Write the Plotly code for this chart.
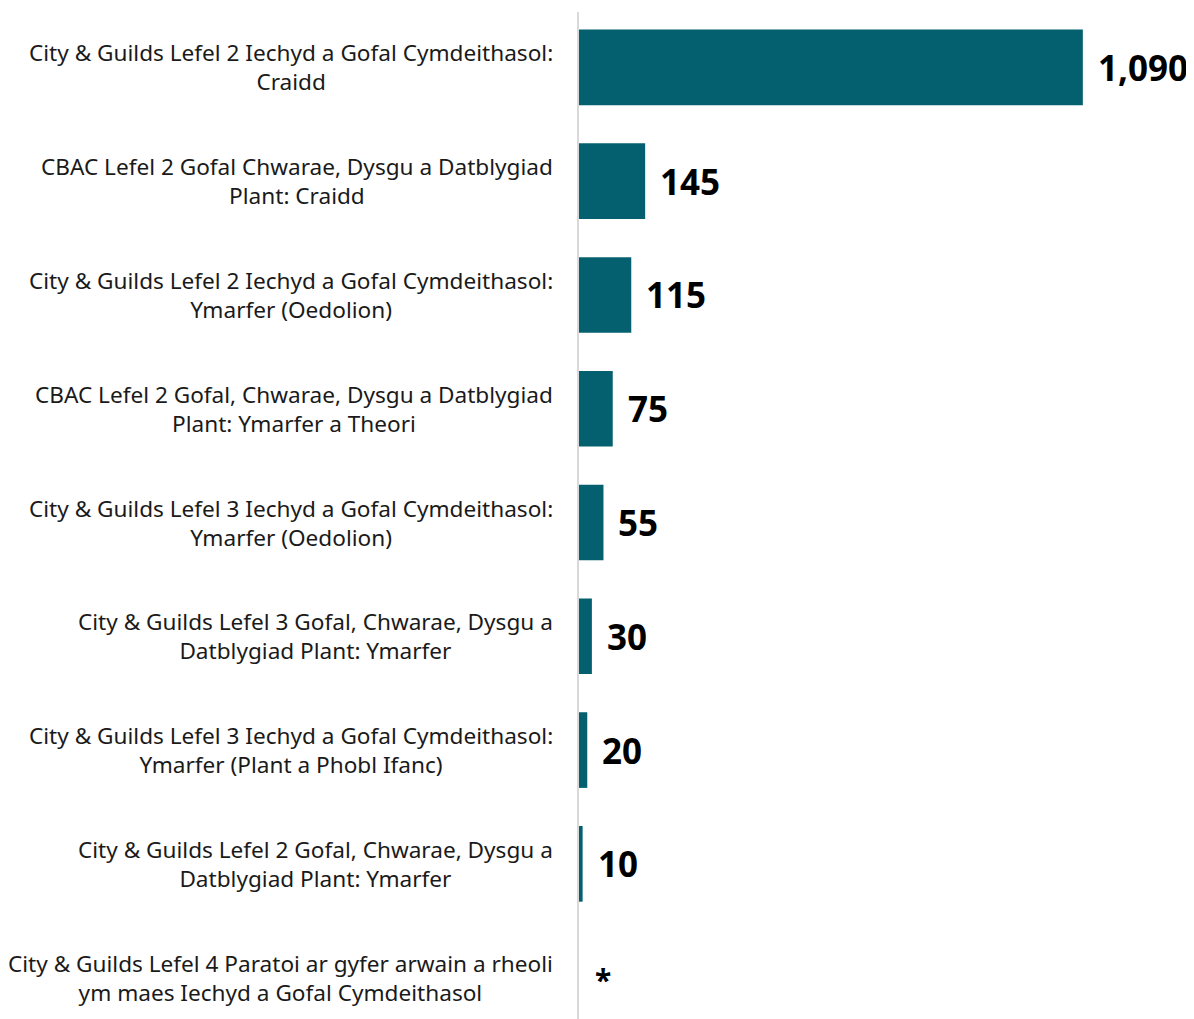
import plotly.graph_objects as go

categories = [
    "City & Guilds Lefel 2 Iechyd a Gofal Cymdeithasol:<br>Craidd",
    "CBAC Lefel 2 Gofal Chwarae, Dysgu a Datblygiad<br>Plant: Craidd",
    "City & Guilds Lefel 2 Iechyd a Gofal Cymdeithasol:<br>Ymarfer (Oedolion)",
    "CBAC Lefel 2 Gofal, Chwarae, Dysgu a Datblygiad<br>Plant: Ymarfer a Theori",
    "City & Guilds Lefel 3 Iechyd a Gofal Cymdeithasol:<br>Ymarfer (Oedolion)",
    "City & Guilds Lefel 3 Gofal, Chwarae, Dysgu a<br>Datblygiad Plant: Ymarfer",
    "City & Guilds Lefel 3 Iechyd a Gofal Cymdeithasol:<br>Ymarfer (Plant a Phobl Ifanc)",
    "City & Guilds Lefel 2 Gofal, Chwarae, Dysgu a<br>Datblygiad Plant: Ymarfer",
    "City & Guilds Lefel 4 Paratoi ar gyfer arwain a rheoli<br>ym maes Iechyd a Gofal Cymdeithasol",
]
values = [1090, 145, 115, 75, 55, 30, 20, 10, None]
value_labels = ["1,090", "145", "115", "75", "55", "30", "20", "10", "*"]

BAR_COLOR = "#04606f"
FONT = "Noto Sans"

ypos = list(range(len(categories)))

fig = go.Figure()
fig.add_trace(go.Bar(
    x=[v if v is not None else 0 for v in values],
    y=ypos,
    orientation="h",
    width=0.665,
    marker=dict(color=BAR_COLOR, line=dict(width=0)),
    hoverinfo="skip",
))

annotations = []
for i, (v, lab) in enumerate(zip(values, value_labels)):
    annotations.append(dict(
        x=v if v is not None else 0, y=i, xref="x", yref="y",
        text=f"<b>{lab}</b>", showarrow=False, xanchor="left", yanchor="middle",
        xshift=13 if v is not None else 15,
        yshift=0 if v is not None else -2,
        font=dict(family=FONT, size=35 if v is not None else 30, color="#000000"),
    ))
for i, cat in enumerate(categories):
    annotations.append(dict(
        x=0, y=i, xref="paper", yref="y", text=cat, showarrow=False,
        xanchor="right", yanchor="middle", align="center", xshift=-23,
        font=dict(family=FONT, size=22.6, color="#1a1a1a"),
    ))

fig.update_layout(
    width=1186, height=1019,
    margin=dict(l=570, r=0, t=4, b=0),
    paper_bgcolor="white", plot_bgcolor="white",
    showlegend=False,
    annotations=annotations,
    xaxis=dict(range=[0, 1330], visible=False, fixedrange=True),
    yaxis=dict(range=[8.434, -0.487], showticklabels=False, showgrid=False,
               zeroline=False, showline=False, ticks=""),
    shapes=[dict(type="line", xref="paper", yref="paper", x0=0, x1=0, y0=0, y1=1,
                 line=dict(color="#d9d9d9", width=2), layer="above")],
)

fig.write_html("out.html")
